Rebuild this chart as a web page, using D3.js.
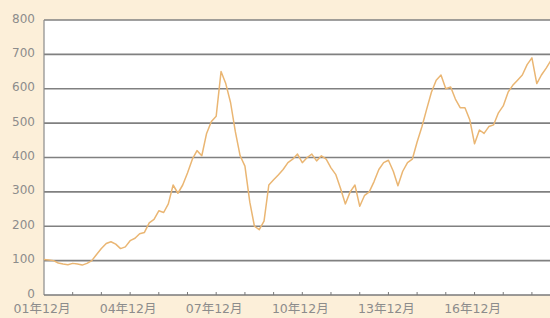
<!DOCTYPE html>
<html>
<head>
<meta charset="utf-8">
<script src="https://cdn.jsdelivr.net/npm/d3@7"></script>
<style>
  body { margin: 0; background: #fcefd9; }
</style>
</head>
<body>
<script>
// data: index level, read every two months
const dates = [
  "2001-12",
  "2002-02","2002-04","2002-06","2002-08","2002-10","2002-12",
  "2003-02","2003-04","2003-06","2003-08","2003-10","2003-12",
  "2004-02","2004-04","2004-06","2004-08","2004-10","2004-12",
  "2005-02","2005-04","2005-06","2005-08","2005-10","2005-12",
  "2006-02","2006-04","2006-06","2006-08","2006-10","2006-12",
  "2007-02","2007-04","2007-06","2007-08","2007-10","2007-12",
  "2008-02","2008-04","2008-06","2008-08","2008-10","2008-12",
  "2009-02","2009-04","2009-06","2009-08","2009-10","2009-12",
  "2010-02","2010-04","2010-06","2010-08","2010-10","2010-12",
  "2011-02","2011-04","2011-06","2011-08","2011-10","2011-12",
  "2012-02","2012-04","2012-06","2012-08","2012-10","2012-12",
  "2013-02","2013-04","2013-06","2013-08","2013-10","2013-12",
  "2014-02","2014-04","2014-06","2014-08","2014-10","2014-12",
  "2015-02","2015-04","2015-06","2015-08","2015-10","2015-12",
  "2016-02","2016-04","2016-06","2016-08","2016-10","2016-12",
  "2017-02","2017-04","2017-06","2017-08","2017-10","2017-12",
  "2018-02","2018-04","2018-06","2018-08","2018-10","2018-12",
  "2019-02","2019-04","2019-06","2019-08"
];
const values = [
  103,
  102, 100, 93, 90, 88, 92,
  90, 87, 92, 100, 118, 135,
  150, 155, 148, 135, 140, 158,
  165, 178, 182, 210, 220, 245,
  240, 265, 320, 296, 320, 355,
  395, 420, 405, 470, 505, 520,
  650, 615, 560, 475, 405, 375,
  270, 200, 190, 215, 320, 335,
  350, 365, 385, 395, 410, 385,
  400, 410, 390, 405, 395, 370,
  350, 310, 265, 300, 320, 258,
  290, 300, 330, 365, 385, 392,
  360, 318, 360, 385, 395, 445,
  490, 540, 590, 625, 640, 600,
  605, 570, 545, 545, 510, 440,
  480, 470, 490, 495, 530, 550,
  590, 610, 625, 640, 670, 690,
  615, 640, 660, 683
];
const yTicks = [0, 100, 200, 300, 400, 500, 600, 700, 800];
const tickYears = d3.range(2002, 2020);
const labelYears = [2001, 2004, 2007, 2010, 2013, 2016];

const parse = d3.timeParse("%Y-%m");
const data = dates.map((d, i) => ({ date: parse(d), value: values[i] }));

// layout
const W = 550, H = 318;
const margin = { left: 44, top: 20, bottom: 295 };
const yearPx = 28.7;

const x = d3.scaleTime()
  .domain([parse("2001-12"), parse("2019-12")])
  .range([margin.left, margin.left + 18 * yearPx]);
const y = d3.scaleLinear()
  .domain([0, 800])
  .range([margin.bottom, margin.top]);

const svg = d3.select("body").append("svg")
  .attr("width", W)
  .attr("height", H)
  .style("display", "block");

svg.append("rect")
  .attr("width", W).attr("height", H)
  .attr("fill", "#fcefd9");

// plot area
svg.append("rect")
  .attr("x", margin.left).attr("y", margin.top)
  .attr("width", x.range()[1] - margin.left)
  .attr("height", margin.bottom - margin.top)
  .attr("fill", "#ffffff");

// grid lines
svg.append("g")
  .selectAll("line")
  .data(yTicks.filter(d => d > 0))
  .enter().append("line")
  .attr("x1", margin.left).attr("x2", x.range()[1])
  .attr("y1", d => y(d)).attr("y2", d => y(d))
  .attr("stroke", "#808080")
  .attr("stroke-width", 1.7);

// left and bottom axis lines
svg.append("line")
  .attr("x1", margin.left).attr("x2", margin.left)
  .attr("y1", margin.top).attr("y2", margin.bottom)
  .attr("stroke", "#8a8a8a").attr("stroke-width", 1.2);
svg.append("line")
  .attr("x1", margin.left).attr("x2", x.range()[1])
  .attr("y1", margin.bottom).attr("y2", margin.bottom)
  .attr("stroke", "#7a7a7a").attr("stroke-width", 1.4);

// year ticks, pointing up
svg.append("g")
  .selectAll("line")
  .data(tickYears)
  .enter().append("line")
  .attr("x1", d => x(parse(d + "-12"))).attr("x2", d => x(parse(d + "-12")))
  .attr("y1", margin.bottom).attr("y2", margin.bottom - 3)
  .attr("stroke", "#7a7a7a").attr("stroke-width", 1);

// y labels
svg.append("g")
  .selectAll("text")
  .data(yTicks)
  .enter().append("text")
  .attr("x", 35)
  .attr("y", d => y(d) - 1.5)
  .attr("dominant-baseline", "central")
  .attr("text-anchor", "end")
  .attr("font-family", "DejaVu Sans, sans-serif")
  .attr("font-size", 12)
  .attr("fill", "#8c8c8c")
  .text(d => d);

// x labels
svg.append("g")
  .selectAll("text")
  .data(labelYears)
  .enter().append("text")
  .attr("x", d => x(parse(d + "-12")) - 2)
  .attr("y", 313)
  .attr("text-anchor", "middle")
  .attr("font-family", "DejaVu Sans, Noto Sans CJK SC, sans-serif")
  .attr("font-size", 12.5)
  .attr("fill", "#8c8c8c")
  .text(d => String(d % 100).padStart(2, "0") + "年12月");

// index line
const line = d3.line()
  .x(d => x(d.date))
  .y(d => y(d.value));

svg.append("path")
  .datum(data)
  .attr("d", line)
  .attr("fill", "none")
  .attr("stroke", "#eab673")
  .attr("stroke-width", 1.5)
  .attr("stroke-linejoin", "round");
</script>
</body>
</html>
